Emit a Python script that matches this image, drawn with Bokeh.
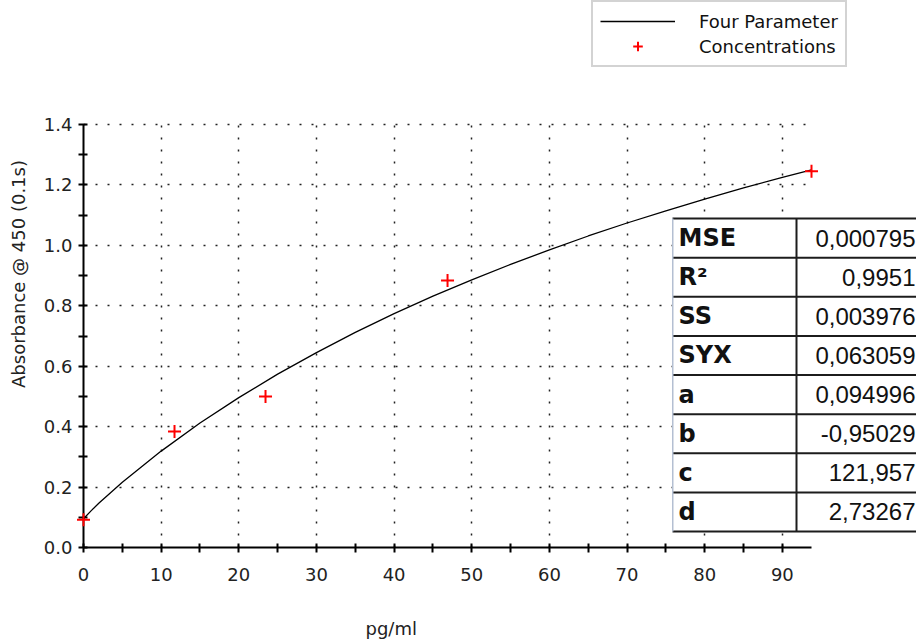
import numpy as np
from bokeh.plotting import figure
from bokeh.models import (Range1d, FixedTicker, PrintfTickFormatter, Legend, LegendItem,
                          BoxAnnotation, Title, LabelSet, ColumnDataSource)
from bokeh.core.properties import value
from bokeh.embed import file_html
from bokeh.resources import INLINE

# ---------------- data ----------------
conc_x = [0.0, 11.72, 23.44, 46.88, 93.75]
conc_y = [0.092, 0.384, 0.500, 0.884, 1.245]

fit_x = [0, 1, 2, 5, 10, 15, 20, 25, 30, 35, 40, 45, 50, 55, 60, 65, 70, 75, 80, 85, 90, 93.75]
fit_y = [0.095, 0.122, 0.147, 0.216, 0.319, 0.412, 0.496, 0.574, 0.645, 0.712, 0.774, 0.832,
         0.886, 0.937, 0.985, 1.031, 1.074, 1.114, 1.153, 1.190, 1.225, 1.250]

x_major = [0, 10, 20, 30, 40, 50, 60, 70, 80, 90]
x_minor = [5, 15, 25, 35, 45, 55, 65, 75, 85]
y_major = [0.0, 0.2, 0.4, 0.6, 0.8, 1.0, 1.2, 1.4]
y_minor = [0.1, 0.3, 0.5, 0.7, 0.9, 1.1, 1.3]

stat_names = ["MSE", "R²", "SS", "SYX", "a", "b", "c", "d"]
stat_values = ["0,000795", "0,9951", "0,003976", "0,063059", "0,094996", "-0,95029", "121,957", "2,73267"]

# axis extents
X_END = 93.75
Y_END = 1.4

# ---------------- layout (pixels) ----------------
W, H = 916, 643
LEFT_PX, BOTTOM_PX = 83, 96            # space for the axes
AXIS_W_PX, AXIS_H_PX = 728, 423        # drawn length of x axis / y axis
FRAME_W, FRAME_H = W - LEFT_PX, H - BOTTOM_PX
FONT = "DejaVu Sans"

# the frame covers the whole page above/right of the axes so that the legend
# and the table (which lie outside the axes box) are not clipped
x_range = Range1d(0, X_END * FRAME_W / AXIS_W_PX)
y_range = Range1d(0, Y_END * FRAME_H / AXIS_H_PX)

p = figure(width=W, height=H, x_range=x_range, y_range=y_range, title=None,
           output_backend="svg", toolbar_location=None,
           min_border_left=LEFT_PX, min_border_right=0, min_border_top=0,
           min_border_bottom=BOTTOM_PX)
p.outline_line_color = None
p.background_fill_color = "white"
p.border_fill_color = "white"

for ax, major, minor, fmt, standoff, bnd in ((p.xaxis[0], x_major, x_minor, "%d", 15, (0, X_END)),
                                             (p.yaxis[0], y_major, y_minor, "%.1f", 6, (0, Y_END))):
    ax.ticker = FixedTicker(ticks=major, minor_ticks=minor)
    ax.formatter = PrintfTickFormatter(format=fmt)
    ax.bounds = bnd
    ax.axis_line_color = "black"
    ax.axis_line_width = 2
    ax.major_tick_line_color = "black"
    ax.minor_tick_line_color = "black"
    ax.major_tick_line_width = 2
    ax.minor_tick_line_width = 2
    ax.major_tick_in = 4
    ax.major_tick_out = 5
    ax.minor_tick_in = 4
    ax.minor_tick_out = 5
    ax.major_label_text_font = FONT
    ax.major_label_text_font_size = "18px"
    ax.major_label_text_color = "#222222"
    ax.major_label_standoff = standoff

p.yaxis.axis_label = "Absorbance @ 450 (0.1s)"
p.yaxis.axis_label_text_font = FONT
p.yaxis.axis_label_text_font_size = "18px"
p.yaxis.axis_label_text_font_style = "normal"
p.yaxis.axis_label_text_color = "#222222"
p.yaxis.axis_label_standoff = 12

p.xgrid.ticker = FixedTicker(ticks=x_major[1:])
p.ygrid.ticker = FixedTicker(ticks=y_major[1:])
for g in (p.xgrid, p.ygrid):
    g.grid_line_color = "#222222"
    g.grid_line_dash = "2 10"
    g.grid_line_width = 1.5

# x axis title, off-centre and low as in the original (a blank spacer pushes it down)
p.add_layout(Title(text=" ", text_font_size="2px", standoff=26), "below")
p.add_layout(Title(text="pg/ml", align="left", offset=282, text_font=FONT,
                   text_font_size="18px", text_font_style="normal",
                   text_color="#222222", standoff=4), "below")

# ---------------- data marks ----------------
curve = p.line(fit_x, fit_y, line_color="black", line_width=1.3)
pts = p.scatter(conc_x, conc_y, marker="cross", size=13, line_color="red",
                line_width=2, level="overlay")


def box(color, **kw):
    return BoxAnnotation(fill_color=color, fill_alpha=1, line_color=None, **kw)


# hide grid lines outside the axes box
p.add_layout(box("white", left=-10, right=FRAME_W + 10, bottom=Y_END + 0.005, top=FRAME_H + 10,
                 left_units="screen", right_units="screen", top_units="screen"))

# ---------------- statistics table ----------------
T_LEFT, T_DIV, T_RIGHT, T_TOP, ROW_H = 589, 713, 860, 329, 39.125
n_rows = len(stat_names)
T_BOTTOM = T_TOP - n_rows * ROW_H

p.add_layout(box("white", left=X_END, right=FRAME_W + 10, bottom=T_TOP, top=FRAME_H + 10,
                 right_units="screen", bottom_units="screen", top_units="screen"))

SCR = dict(left_units="screen", right_units="screen", top_units="screen", bottom_units="screen")
p.add_layout(box("white", left=T_LEFT, right=T_RIGHT, top=T_TOP, bottom=T_BOTTOM, **SCR))
for i in range(n_rows + 1):
    yl = T_TOP - i * ROW_H
    p.add_layout(box("#1c1c1c", left=T_LEFT, right=T_RIGHT, top=yl + 1, bottom=yl - 1, **SCR))
p.add_layout(box("#1c1c1c", left=T_DIV - 1, right=T_DIV + 1, top=T_TOP, bottom=T_BOTTOM, **SCR))
p.add_layout(box("#b4bfd2", left=T_LEFT - 0.5, right=T_LEFT + 1, top=T_TOP, bottom=T_BOTTOM, **SCR))

row_y = [T_TOP - ROW_H * (i + 0.5) for i in range(n_rows)]
tsrc = ColumnDataSource(dict(name=stat_names, val=stat_values, ly=row_y,
                             nx=[T_LEFT + 6] * n_rows, vx=[832] * n_rows))
p.add_layout(LabelSet(x="nx", y="ly", text="name", source=tsrc, x_units="screen", y_units="screen",
                      text_font=value(FONT), text_font_style="bold", text_font_size="24px",
                      text_baseline="middle", text_align="left", text_color="#111111"))
p.add_layout(LabelSet(x="vx", y="ly", text="val", source=tsrc, x_units="screen", y_units="screen",
                      text_font=value("Liberation Sans"), text_font_size="24px",
                      text_baseline="middle", text_align="right", text_color="#111111"))

# ---------------- legend ----------------
legend = Legend(items=[LegendItem(label="Four Parameter", renderers=[curve]),
                       LegendItem(label="Concentrations", renderers=[pts])],
                location=(508, 480), orientation="vertical",
                border_line_color="#a8a8a8", border_line_width=2,
                background_fill_color="white", background_fill_alpha=1,
                label_text_font=FONT, label_text_font_size="18px", label_text_color="#111111",
                glyph_width=75, glyph_height=24, label_height=20, label_standoff=24,
                padding=7, spacing=1, margin=0)
p.add_layout(legend)

open("out.html", "w").write(file_html(p, INLINE))
